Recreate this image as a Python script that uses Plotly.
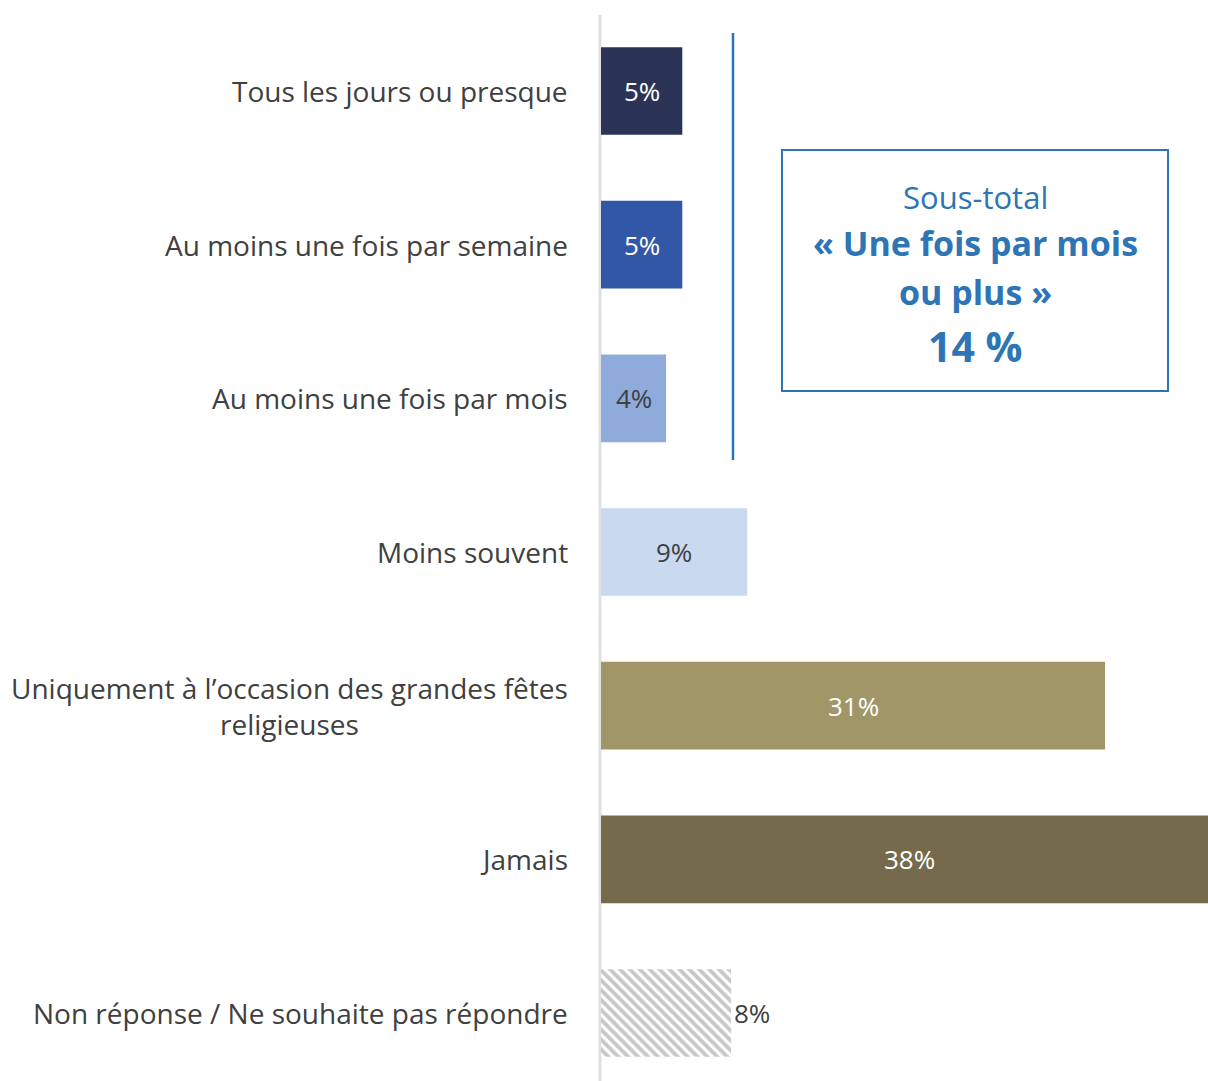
import plotly.graph_objects as go

categories = [
    "Tous les jours ou presque",
    "Au moins une fois par semaine",
    "Au moins une fois par mois",
    "Moins souvent",
    "Uniquement à l’occasion des grandes fêtes<br>religieuses",
    "Jamais",
    "Non réponse / Ne souhaite pas répondre",
]
values = [5, 5, 4, 9, 31, 38, 8]
value_labels = ["5%", "5%", "4%", "9%", "31%", "38%", "8%"]
colors = ["#2B3356", "#3157A6", "#8EABDB", "#C9D9F0", "#A09668", "#756A4B", "#FFFFFF"]
text_colors = ["white", "white", "#404040", "#404040", "white", "white", "#404040"]

W, H = 1208, 1081
LEFT = 601
FONT = "Open Sans"
PX_PER_PCT = 16.26


def px(x):
    return (x - LEFT) / (W - LEFT)


def py(y):
    return 1 - y / H


ys = list(range(len(categories)))
step = 153.67
y_top = -91 / step
y_bot = 6 + (H - 1013) / step

fig = go.Figure()
fig.add_trace(go.Bar(
    x=values[:6],
    y=ys[:6],
    orientation="h",
    width=0.57,
    marker=dict(color=colors[:6], line=dict(width=0)),
    textposition="none",
    hoverinfo="skip",
))
# hatched "non réponse" bar
fig.add_trace(go.Bar(
    x=values[6:],
    y=ys[6:],
    orientation="h",
    width=0.57,
    marker=dict(color="white", line=dict(width=0),
                pattern=dict(shape="\\", fgcolor="#8F8F8F", bgcolor="white",
                             size=7, solidity=0.55)),
    textposition="none",
    hoverinfo="skip",
))

annotations = []
for i, c in enumerate(categories):
    annotations.append(dict(
        x=0, xref="paper", y=i, yref="y", text=c, showarrow=False,
        xanchor="right", yanchor="middle", align="center", xshift=-31,
        font=dict(family=FONT, size=28, color="#404040"),
    ))

# value labels: centred in the bar, or just outside for the hatched one
for i, (v, lab) in enumerate(zip(values, value_labels)):
    if i == 6:
        annotations.append(dict(
            x=v, xref="x", y=i, yref="y", text=lab, showarrow=False,
            xanchor="left", yanchor="middle", xshift=1,
            font=dict(family=FONT, size=26, color=text_colors[i]),
        ))
    else:
        annotations.append(dict(
            x=v / 2, xref="x", y=i, yref="y", text=lab, showarrow=False,
            xanchor="center", yanchor="middle",
            font=dict(family=FONT, size=26, color=text_colors[i]),
        ))

blue = "#2E75B6"
box_lines = [
    ("Sous-total", 197, 31, False),
    ("« Une fois par mois", 243, 34, True),
    ("ou plus »", 292, 34, True),
    ("14 %", 346, 41, True),
]
for txt, yy, sz, bold in box_lines:
    annotations.append(dict(
        x=px(975), xref="paper", y=py(yy), yref="paper",
        text=f"<b>{txt}</b>" if bold else txt, showarrow=False,
        xanchor="center", yanchor="middle",
        font=dict(family=FONT, size=sz, color=blue),
    ))

shapes = [
    # category axis line
    dict(type="line", xref="paper", yref="paper", x0=px(600), x1=px(600),
         y0=py(15), y1=0, line=dict(color="#E0E0E0", width=3), layer="below"),
    # bracket line
    dict(type="line", xref="paper", yref="paper", x0=px(733), x1=px(733),
         y0=py(33), y1=py(460), line=dict(color=blue, width=2.5)),
    # subtotal box
    dict(type="rect", xref="paper", yref="paper", x0=px(782), x1=px(1168),
         y0=py(150), y1=py(391), line=dict(color=blue, width=2),
         fillcolor="white"),
]

fig.update_layout(
    width=W, height=H,
    margin=dict(l=LEFT, r=0, t=0, b=0),
    plot_bgcolor="white", paper_bgcolor="white",
    showlegend=False,
    barmode="overlay",
    xaxis=dict(range=[0, (W - LEFT) / PX_PER_PCT], visible=False, fixedrange=True),
    yaxis=dict(range=[y_bot, y_top], visible=False, fixedrange=True),
    annotations=annotations,
    shapes=shapes,
    font=dict(family=FONT),
)

# drop the default page margin so the figure fills the window exactly
fig.write_html("out.html",
               config={"displayModeBar": False},
               post_script="document.body.style.margin='0';document.body.style.overflow='hidden';")
